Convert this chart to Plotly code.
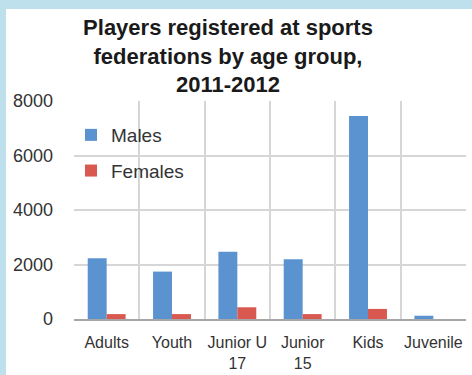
import plotly.graph_objects as go

# Registered players per age group, 2011-2012
age_groups = ["Adults", "Youth", "Junior U<br>17", "Junior<br>15", "Kids", "Juvenile"]
males = [2230, 1740, 2470, 2190, 7450, 120]
females = [180, 180, 430, 180, 370, 0]

blue = "#5B93D1"
red = "#D9584F"
font_family = "Liberation Sans, Arial, sans-serif"

W, H = 472, 375
ML, MR, MT, MB = 74, 6, 101, 56
pw = W - ML - MR
ph = H - MT - MB

fig = go.Figure()
fig.add_trace(go.Bar(name="Males", x=age_groups, y=males,
                     marker=dict(color=blue, line=dict(width=0)),
                     legendgroup="m"))
fig.add_trace(go.Bar(name="Females", x=age_groups, y=females,
                     marker=dict(color=red, line=dict(width=0)),
                     legendgroup="f"))

# white card on the light-blue page
fig.add_shape(type="rect", xref="paper", yref="paper", layer="below",
              x0=(6 - ML) / pw, x1=1.2, y0=-0.5, y1=(H - MB - 9) / ph,
              fillcolor="white", line=dict(width=0))

fig.update_layout(
    width=W, height=H,
    margin=dict(l=ML, r=MR, t=MT, b=MB, pad=0, autoexpand=False),
    paper_bgcolor="#BEDFEC",
    plot_bgcolor="white",
    barmode="group",
    bargap=0.42,
    bargroupgap=0,
    font=dict(family=font_family, color="#333333"),
    title=dict(
        text="<b>Players registered at sports<br>federations by age group,<br>2011-2012</b>",
        font=dict(family=font_family, size=22, color="#1a1a1a"),
        x=228 / W, xanchor="center", xref="container",
        y=1 - 35 / H, yanchor="top", yref="container",
    ),
    legend=dict(
        x=(71 - ML) / pw, xanchor="left",
        y=(H - MB - 116) / ph, yanchor="top",
        bgcolor="rgba(0,0,0,0)",
        font=dict(size=19, color="#333333"),
        tracegroupgap=8,
        itemclick=False,
    ),
    showlegend=True,
)

fig.update_xaxes(
    type="category",
    tickson="boundaries",
    tickangle=0,
    showgrid=True, gridcolor="#D6D6D6", gridwidth=2,
    showline=True, linecolor="#A6A6A6", linewidth=2,
    ticks="", ticklabelstandoff=8,
    tickfont=dict(size=16, color="#333333"),
)
fig.update_yaxes(
    range=[0, 8000], dtick=2000,
    showgrid=True, gridcolor="#D6D6D6", gridwidth=2,
    zeroline=False, showline=False,
    ticks="", ticklabelstandoff=20,
    tickfont=dict(size=18, color="#333333"),
)

fig.write_html("out.html")
